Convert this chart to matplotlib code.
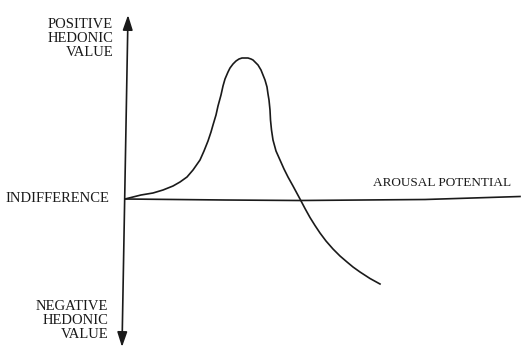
import matplotlib
matplotlib.use("Agg")
import matplotlib.pyplot as plt
from matplotlib.patches import FancyArrowPatch

# Wundt curve: hedonic value against arousal potential
arousal = [0, 8, 16, 28, 38, 48, 55, 62, 68, 75, 79, 83, 86, 88, 91, 93, 96, 98,
           100, 103, 105, 108, 111, 114, 117, 120, 123, 126, 128, 130, 133, 136,
           138, 140, 142, 143, 144, 145, 145.5, 146.5, 148, 151, 155, 159, 163, 168,
           175, 180, 185, 190, 195, 201, 208, 215, 222, 228, 235, 245, 255]
hedonic = [0, 2, 4, 6, 9, 13, 17, 22, 29, 39, 48, 58, 67, 74, 84, 93, 104, 113,
           120, 127, 131, 135, 138, 140, 141, 141, 141, 140, 139, 137, 134, 129,
           124, 119, 112, 105, 99, 89, 79, 69, 59, 48, 39, 30, 22, 13,
           0, -9.5, -18.5, -26.5, -34, -42, -50, -57, -63, -68, -73, -79.5, -85]

# the arousal-potential baseline, drawn a little uneven as in the scan
base_x = [0, 100, 175, 300, 395]
base_y = [0, -1, -1.5, -0.5, 2.5]

fig = plt.figure(figsize=(5.25, 3.56), dpi=100)
ax = fig.add_axes([0, 0, 1, 1])
ax.set_xlim(-125, 400)
ax.set_ylim(-157, 199)
ax.axis("off")

serif = "Liberation Serif"
fs = 10.5
ink = "#1a1a1a"

ax.plot(base_x, base_y, color=ink, lw=1.2)
ax.plot(arousal, hedonic, color=ink, lw=1.2)

# hedonic axis with arrows at both ends
axis = FancyArrowPatch((-3, -148), (3, 184), arrowstyle="<|-|>,head_length=0.9,head_width=0.3",
                       mutation_scale=10, color=ink, lw=1.2, shrinkA=0, shrinkB=0)
ax.add_patch(axis)

ax.text(-12, 161, "POSITIVE\nHEDONIC\nVALUE", ha="right", va="center",
        family=serif, fontsize=fs, linespacing=1.1, color=ink)
ax.text(-17, -122, "NEGATIVE\nHEDONIC\nVALUE", ha="right", va="center",
        family=serif, fontsize=fs, linespacing=1.1, color=ink)
ax.text(-16, 0, "INDIFFERENCE", ha="right", va="center", family=serif, fontsize=fs, color=ink)
ax.text(248, 16, "AROUSAL POTENTIAL", ha="left", va="center", family=serif, fontsize=9.5, color=ink)

fig.savefig("out.png", dpi=100, facecolor="white")
